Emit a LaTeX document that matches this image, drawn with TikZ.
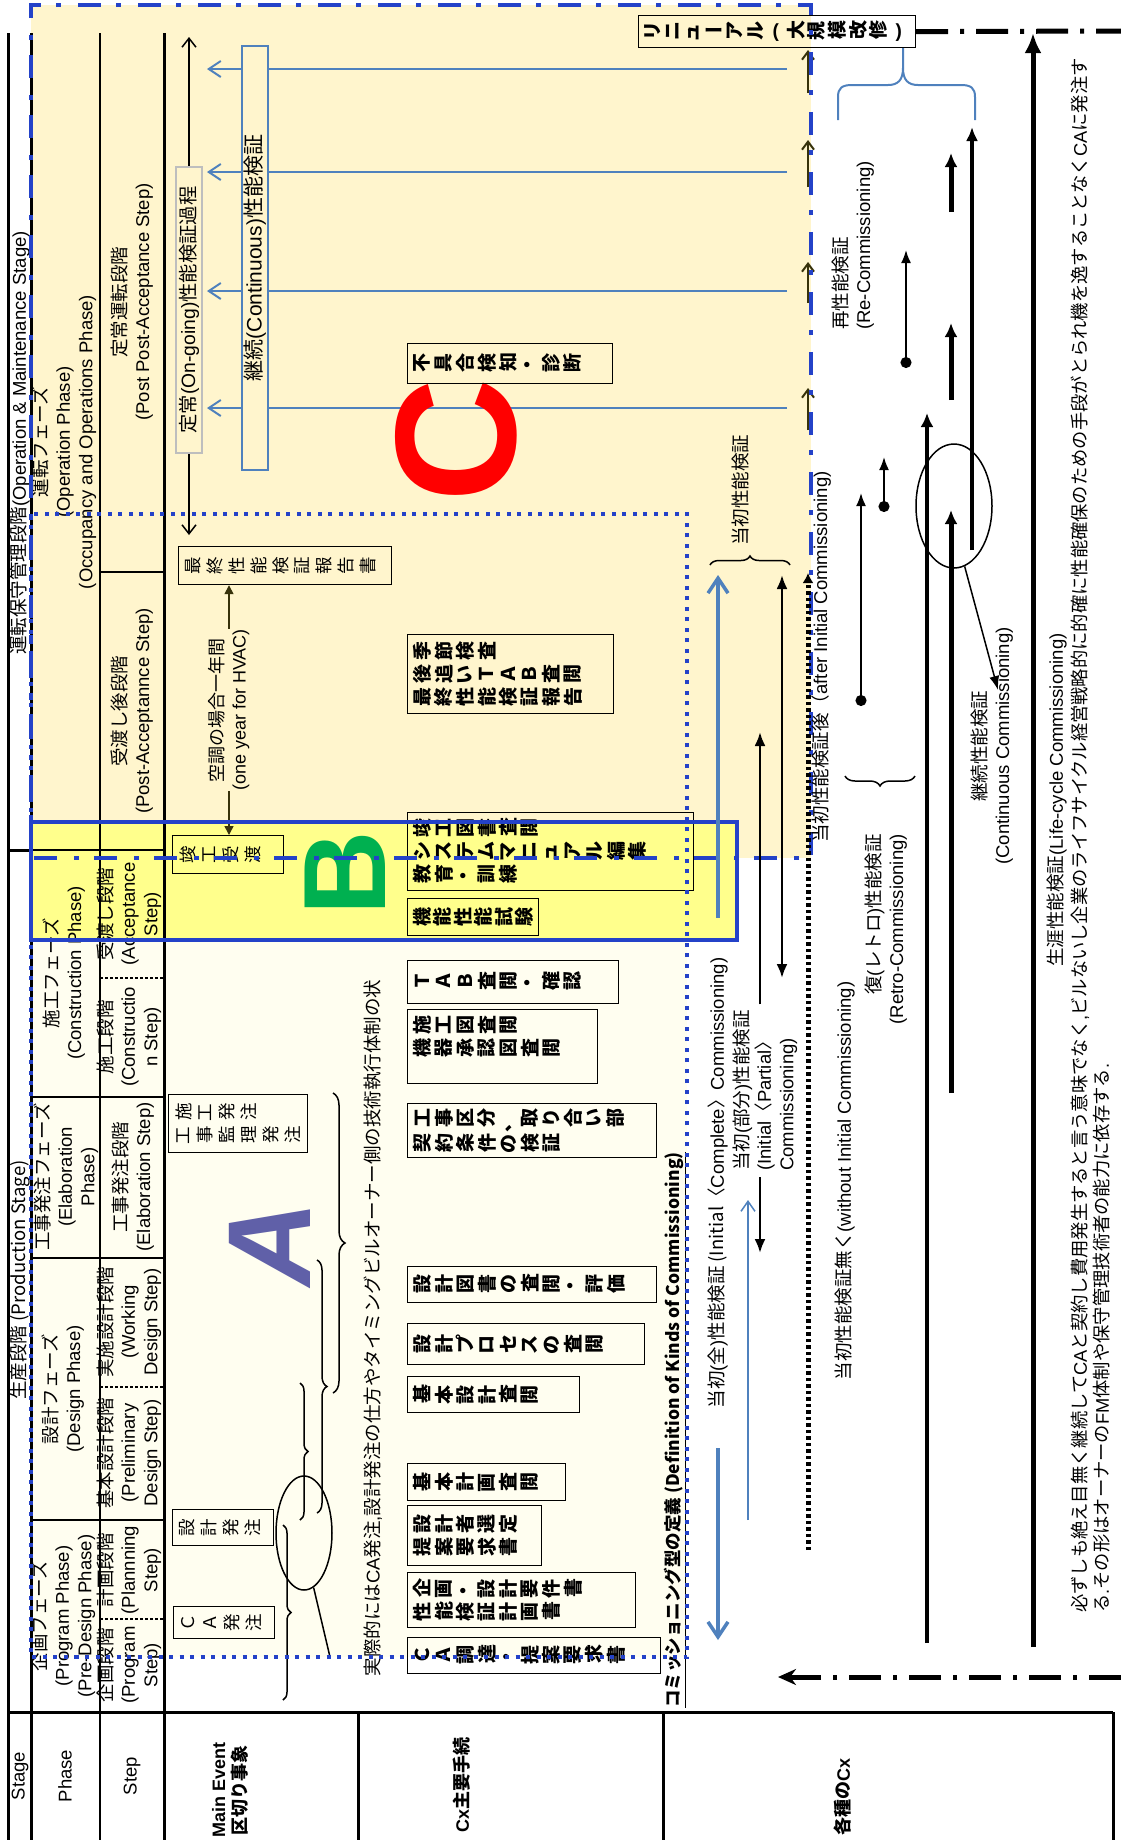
\documentclass[tikz,border=0pt]{standalone}
\usepackage{fontspec}
\usepackage{graphicx}
\usetikzlibrary{arrows.meta,positioning,calc,shapes.geometric,decorations.pathreplacing}
\setmainfont{Liberation Sans}
\newfontfamily\jpfam{Noto Sans CJK JP}
\newfontfamily\enfam{Liberation Sans}
\definecolor{opsyellow}{RGB}{255,245,205}
\definecolor{prodcream}{RGB}{255,254,240}
\definecolor{bandyellow}{RGB}{255,255,140}
\definecolor{cxblue}{RGB}{36,66,200}
\definecolor{lineblue}{RGB}{79,129,189}
\definecolor{olivedark}{RGB}{55,50,10}
\definecolor{greybox}{RGB}{190,190,190}
\definecolor{letterred}{RGB}{255,0,0}
\definecolor{lettergreen}{RGB}{0,176,80}
\definecolor{letterblue}{RGB}{96,96,168}

% Japanese characters switch to Noto Sans CJK JP by themselves
\XeTeXinterchartokenstate=1
\newXeTeXintercharclass\jpclass
\newcount\jpcode
\def\jprange#1#2{\jpcode=#1\relax
  \loop\XeTeXcharclass\jpcode=\jpclass\relax
  \ifnum\jpcode<#2\advance\jpcode by 1\repeat}
\jprange{"3000}{"30FF}
\jprange{"4E00}{"9FFF}
\jprange{"FF00}{"FFEF}
\XeTeXinterchartoks 0 \jpclass = {\jpfam}
\XeTeXinterchartoks 4095 \jpclass = {\jpfam}
\XeTeXinterchartoks \jpclass 0 = {\enfam}

% vertical writing turned on its side: every glyph rotated
\def\vp{21.5pt}
\def\vtstop{\vtstop}
\def\vtext#1{\vtloop#1\vtstop}
\def\vtloop#1{\ifx#1\vtstop\else\vtone{#1}\expandafter\vtloop\fi}
\def\vtone#1{\makebox[\vp]{\ifx#1ー#1\else\ifx#1(#1\else\ifx#1)#1\else\rotatebox[origin=c]{90}{#1}\fi\fi\fi}}

\begin{document}
\begin{tikzpicture}[x=1pt,y=-1pt,
  lbl/.style={rotate=90,inner sep=0pt,font=\fontsize{18.5}{22.5}\selectfont},
  hdrb/.style={rotate=90,inner sep=0pt,align=center,font=\fontsize{18}{21}\selectfont\bfseries},
  mebox/.style={draw,line width=1.2pt,anchor=north west,inner xsep=4pt,inner ysep=2pt,align=left,font=\fontsize{17.5}{23}\selectfont\def\vp{21.8pt}},
  cxbox/.style={mebox,font=\fontsize{19}{23}\selectfont\bfseries\def\vp{21.5pt}},
  rule/.style={line width=3pt},
  sepline/.style={line width=1.5pt},
  sepdash/.style={line width=1.5pt,dash pattern=on 3pt off 2pt},
  brc/.style={decorate,decoration={brace,amplitude=#1},line width=1.5pt},
  twobarb/.style={line width=1.5pt,{Straight Barb[length=9pt,width=14pt]}-{Straight Barb[length=9pt,width=14pt]}},
  bluearr/.style={lineblue,line width=2pt,-{Straight Barb[length=12pt,width=16pt]}},
  bluethick/.style={lineblue,line width=3.5pt,-{Straight Barb[length=15pt,width=20pt]}},
  olivearr/.style={olivedark,line width=2pt,-{Straight Barb[length=8pt,width=12pt]}},
  hvacarr/.style={olivedark,line width=1.5pt,-{Triangle[length=9pt,width=9pt]}},
  blkarr/.style={line width=2.5pt,-{Latex[length=14pt,width=11pt]}},
  fatarr/.style={line width=5pt,-{Latex[length=14pt,width=13pt]}},
  dotarr/.style={line width=1.8pt,{Circle[length=11pt]}-{Latex[length=13pt,width=10pt]}},
  blkdashdot/.style={line width=5pt,dash pattern=on 32pt off 12pt on 4pt off 12pt}]
\useasboundingbox (0,0) rectangle (1121,1840);
% areas
\fill[prodcream] (31,514) rectangle (687,1657);
\fill[opsyellow] (31,5) rectangle (811,858);
\fill[bandyellow] (31,822) rectangle (737,940);
% table rules
\draw[rule] (8,33) -- (8,1840) (31,33) -- (31,1840) (164,33) -- (164,1840);
\draw[line width=2pt] (100,33) -- (100,1840);
\draw[rule] (8,850) -- (31,850) (8,1712) -- (1113,1712);
\draw[rule] (358,1712) -- (358,1840) (663,1712) -- (663,1840) (1113,1712) -- (1113,1840);
\draw[sepline] (100,572) -- (164,572) (31,850) -- (164,850) (31,1097) -- (164,1097)
  (31,1258) -- (164,1258) (31,1520) -- (164,1520);
\draw[sepdash] (100,978) -- (164,978) (100,1387) -- (164,1387) (100,1619) -- (164,1619);

% stage / phase / step
\node[lbl] (stOM) at (20,443) {運転保守管理段階(Operation \& Maintenance Stage)};
\node[lbl] (stPR) at (20,1280) {生産段階 (Production Stage)};
\node[lbl,align=center] (phOp) at (64,442) {運転フェーズ\\(Operation Phase)\\(Occupancy and Operations Phase)};
\node[lbl,align=center] (phCo) at (64,973) {施工フェーズ\\(Construction Phase)};
\node[lbl,align=center] (phEl) at (66,1177) {工事発注フェーズ\\(Elaboration\\Phase)};
\node[lbl,align=center] (phDe) at (63,1389) {設計フェーズ\\(Design Phase)};
\node[lbl,align=center] (phPr) at (63,1616) {企画フェーズ\\(Program Phase)\\(Pre-Design Phase)};
\node[lbl,align=center] (spPo) at (132,302) {定常運転段階\\(Post Post-Acceptance Step)};
\node[lbl,align=center] (spPa) at (132,711) {受渡し後段階\\(Post-Acceptannce Step)};
\node[lbl,align=center] (spAc) at (129,914) {受渡し段階\\(Acceptance\\Step)};
\node[lbl,align=center] (spCo) at (129,1037) {施工段階\\(Constructio\\n Step)};
\node[lbl,align=center] (spEl) at (133,1177) {工事発注段階\\(Elaboration Step)};
\node[lbl,align=center] (spWd) at (129,1322) {実施設計段階\\(Working\\Design Step)};
\node[lbl,align=center] (spPd) at (129,1453) {基本設計段階\\(Preliminary\\Design Step)};
\node[lbl,align=center] (spPl) at (129,1570) {計画段階\\(Plannning\\Step)};
\node[lbl,align=center] (spPg) at (129,1665) {企画段階\\(Program\\Step)};
\node[lbl] (hStage) at (20,1776) {Stage};
\node[lbl] (hPhase) at (65,1776) {Phase};
\node[lbl] (hStep) at (132,1776) {Step};
\node[hdrb] (hEvent) at (230,1790) {Main Event\\区切り事象};
\node[hdrb] (hProc) at (462,1785) {Cx主要手続};
\node[hdrb] (hKind) at (843,1797) {各種のCx};

% operation stage
\coordinate (ongoTop) at (189,37);
\node[mebox,text width=205pt,minimum height=38pt] (final) at (178,546) {\vtext{最終性能検証報告書}};
\draw[twobarb,shorten >=11pt] (ongoTop) -- (ongoTop |- final.north);
\node[lbl,draw=greybox,line width=1.5pt,fill=opsyellow,minimum width=286pt,minimum height=26pt,font=\fontsize{19.3}{23}\selectfont] (ongo) at (189,310) {定常(On-going)性能検証過程};
\foreach \yy in {69,172,291,408} \draw[bluearr] (787,\yy) -- (207,\yy);
\node[lbl,draw=lineblue,line width=1.5pt,fill=opsyellow,minimum width=424pt,minimum height=26pt,font=\fontsize{21}{24}\selectfont] (cont) at (255,258) {継続(Continuous)性能検証};
\foreach \ya/\yb in {93/50,187/140,303/262,430/388} \draw[olivearr] (808,\ya) -- (808,\yb);
\node[rotate=90,inner sep=0pt,text=letterred,font=\fontsize{172}{172}\selectfont\bfseries] (bigC) at (456,440) {C};
\node[cxbox,text width=197pt,minimum height=40pt] (diag) at (407,343) {\vtext{不具合検知・診断}};
\node[cxbox,text width=269pt,minimum height=32pt,font=\fontsize{19}{22}\selectfont\bfseries\def\vp{20.5pt}] (renew) at (638,15) {\vtext{リニューアル(大規模改修)}};

% main events
\node[mebox,text width=103pt,minimum height=38pt] (hando) at (172,835) {\vtext{竣工受渡}};
\node[lbl,align=center,font=\fontsize{18}{22}\selectfont] (hvac) at (229,710) {空調の場合一年間\\(one year for HVAC)};
\draw[hvacarr] (hvac.east) -- (hvac.east |- final.south);
\draw[hvacarr] (hvac.west) -- (hvac.west |- hando.north);
\node[mebox,text width=131pt,minimum height=58pt] (csord) at (168,1094) {\vtext{施工発注}\\\vtext{工事監理発注}};
\node[mebox,text width=93pt,minimum height=36pt] (dsord) at (172,1509) {\vtext{設計発注}};
\node[mebox,text width=93pt,minimum height=32pt] (caord) at (173,1606) {\vtext{ＣＡ発注}};
\node[rotate=90,inner sep=0pt,text=lettergreen,font=\fontsize{117}{117}\selectfont\bfseries] (bigB) at (345,873) {B};
\node[rotate=90,inner sep=0pt,text=letterblue,font=\fontsize{118}{118}\selectfont\bfseries\itshape] (bigA) at (270,1244) {A};
\draw[brc=12pt] (333,1093) -- (333,1393);
\draw[brc=10pt] (317,1260) -- (317,1513);
\draw[brc=8pt] (300,1383) -- (300,1520);
\draw[brc=8pt] (283,1525) -- (283,1700);
\node[draw,ellipse,line width=1.5pt,minimum width=56pt,minimum height=114pt,inner sep=0pt] (ordell) at (304,1533) {};
\coordinate (ordEnd) at (330,1657);
\draw[line width=1.5pt] (ordell.-80) -- (ordEnd);
\node[lbl] (practice) at (373,1328) {実際的にはCA発注,設計発注の仕方やタイミングビルオーナー側の技術執行体制の状};

% Cx procedures
\node[cxbox,text width=198pt,minimum height=79pt] (seas) at (407,634) {\vtext{季節検査}\\\vtext{後追いＴＡＢ査閲}\\\vtext{最終性能検証報告}};
\node[cxbox,text width=278pt,minimum height=78pt] (docs) at (407,812) {\vtext{竣工図書査閲}\\\vtext{システムマニュアル編集}\\\vtext{教育・訓練}};
\node[cxbox,text width=123pt,minimum height=37pt,font=\fontsize{19}{23}\selectfont\bfseries\def\vp{20.5pt}] (func) at (407,898) {\vtext{機能性能試験}};
\node[cxbox,text width=203pt,minimum height=43pt] (tab) at (407,960) {\vtext{ＴＡＢ査閲・確認}};
\node[cxbox,text width=182pt,minimum height=74pt] (shop) at (407,1009) {\vtext{施工図査閲}\\\vtext{機器承認図査閲}\\\mbox{}};
\node[cxbox,text width=241pt,minimum height=54pt] (scope) at (407,1103) {\vtext{工事区分、取り合い部}\\\vtext{契約条件の検証}};
\node[cxbox,text width=241pt,minimum height=36pt] (dsrev) at (407,1266) {\vtext{設計図書の査閲・評価}};
\node[cxbox,text width=229pt,minimum height=41pt] (dsproc) at (407,1323) {\vtext{設計プロセスの査閲}};
\node[cxbox,text width=164pt,minimum height=36pt] (basd) at (407,1376) {\vtext{基本設計査閲}};
\node[cxbox,text width=150pt,minimum height=37pt] (basp) at (407,1463) {\vtext{基本計画査閲}};
\node[cxbox,text width=126pt,minimum height=60pt] (dsel) at (407,1505) {\vtext{設計者選定}\\\vtext{提案要求書}};
\node[cxbox,text width=220pt,minimum height=55pt] (preq) at (407,1572) {\vtext{企画・設計要件書}\\\vtext{性能検証計画書}};
\node[cxbox,text width=245pt,minimum height=36pt] (carq) at (407,1637) {\vtext{ＣＡ調達・提案要求書}};
\node[rotate=90,inner sep=0pt,font=\fontsize{17.5}{21}\selectfont\bfseries] (kinds) at (675,1430) {\underline{コミッショニング型の定義 (Definition of Kinds of Commissioning)}};

% stage borders
\draw[cxblue,line width=4pt] (31,822) rectangle (737,940);
\draw[cxblue,line width=4pt,dash pattern=on 23pt off 15pt on 5pt off 17pt] (31,858) -- (31,5) -- (811,5) -- (811,858) -- cycle;
\draw[cxblue,line width=4pt,dash pattern=on 4pt off 6.5pt] (31,514) rectangle (687,1657);

% kinds of Cx
\node[lbl] (initlbl) at (740,490) {当初性能検証};
\draw[brc=9pt] (710,565) -- (790,565);
\coordinate (cpltTop) at (718,575);
\coordinate (cpltBot) at (718,1640);
\node[lbl,inner xsep=40pt] (cplt) at (718,1183) {当初(全)性能検証 (Initial〈Complete〉Commissioning)};
\draw[bluethick] (cplt.east) -- (cpltTop);
\draw[bluethick] (cplt.west) -- (cpltBot);
\draw[lineblue,line width=1.5pt,-{Straight Barb[length=10pt,width=14pt]}] (748,1520) -- (748,1200);
\coordinate (partTop) at (760,732);
\coordinate (partBot) at (760,1253);
\node[lbl,align=left,anchor=west,inner xsep=6pt] (part) at (765,1177) {当初(部分)性能検証\\(Initial〈Partial〉\\Commissioning)};
\draw[blkarr] (part.east -| partTop) -- (partTop);
\draw[blkarr] (part.west -| partBot) -- (partBot);
\draw[line width=2.5pt,{Latex[length=14pt,width=11pt]}-{Latex[length=14pt,width=11pt]}] (782,575) -- (782,978);
\node[lbl] (afterlbl) at (821,657) {当初性能検証後（after Initial Commissioning)};
\draw[line width=5pt,dash pattern=on 3.5pt off 3pt,-{Latex[length=10pt,width=11pt]}] (808,1550) -- (808,573);
\node[lbl] (nolbl) at (845,1181) {当初性能検証無く(without Initial Commissioning)};
\draw[brc=10pt] (915,776) -- (845,776);
\node[lbl,align=right,anchor=east] (retro) at (886,834) {復(レトロ)性能検証\\(Retro-Commissioning)};
\draw[dotarr] (861,706) -- (861,493);
\draw[dotarr] (884,512) -- (884,457);
\draw[dotarr] (906,368) -- (906,250);
\node[lbl,align=left,anchor=west] (recom) at (853,330) {再性能検証\\(Re-Commissioning)};
\draw[fatarr] (951,400) -- (951,323);
\draw[fatarr] (951,212) -- (951,153);
\draw[line width=3.5pt,-{Latex[length=14pt,width=12pt]}] (972,550) -- (972,127);
\draw[line width=4.5pt,-{Latex[length=14pt,width=13pt]}] (927,1643) -- (927,413);
\draw[fatarr] (951,1093) -- (951,510);
\node[draw,ellipse,line width=1.5pt,minimum width=76pt,minimum height=124pt,inner sep=0pt] (contell) at (954,506) {};
\node[lbl,align=center] (contlbl) at (992,746) {継続性能検証\\(Continuous Commissioning)};
\draw[line width=1.5pt,-{Latex[length=14pt,width=10pt]}] (contell.-80) -- (998,690);
\draw[lineblue,line width=2pt] (838,120) -- (838,97) .. controls (838,88) and (842,85) .. (852,85) -- (888,85) .. controls (898,85) and (903,80) .. (903,68) -- (903,48);
\draw[lineblue,line width=2pt] (975,120) -- (975,97) .. controls (975,88) and (971,85) .. (961,85) -- (918,85) .. controls (908,85) and (903,80) .. (903,68);
\coordinate (topEnd) at (1121,31);
\draw[blkdashdot] (renew.east) -- (topEnd);
\draw[line width=5pt,-{Latex[length=20pt,width=17pt]}] (1033,1647) -- (1033,33);
\node[lbl] (lifelbl) at (1057,800) {生涯性能検証(Life-cycle Commissioning)};
\node[lbl,align=left,anchor=west,font=\fontsize{18.3}{22}\selectfont] (note) at (1091,1613) {必ずしも絶え目無く継続してCAと契約し費用発生すると言う意味でなく,ビルないし企業のライフサイクル経営戦略的に的確に性能確保のための手段がとられ機を逸することなくCAに発注す\\る.その形はオーナーのFM体制や保守管理技術者の能力に依存する.};
\coordinate (botEnd) at (1121,1677);
\coordinate (botTip) at (778,1677);
\draw[blkdashdot,-{Stealth[length=18pt,width=16pt]}] (botEnd) -- (botTip);
\end{tikzpicture}
\end{document}
